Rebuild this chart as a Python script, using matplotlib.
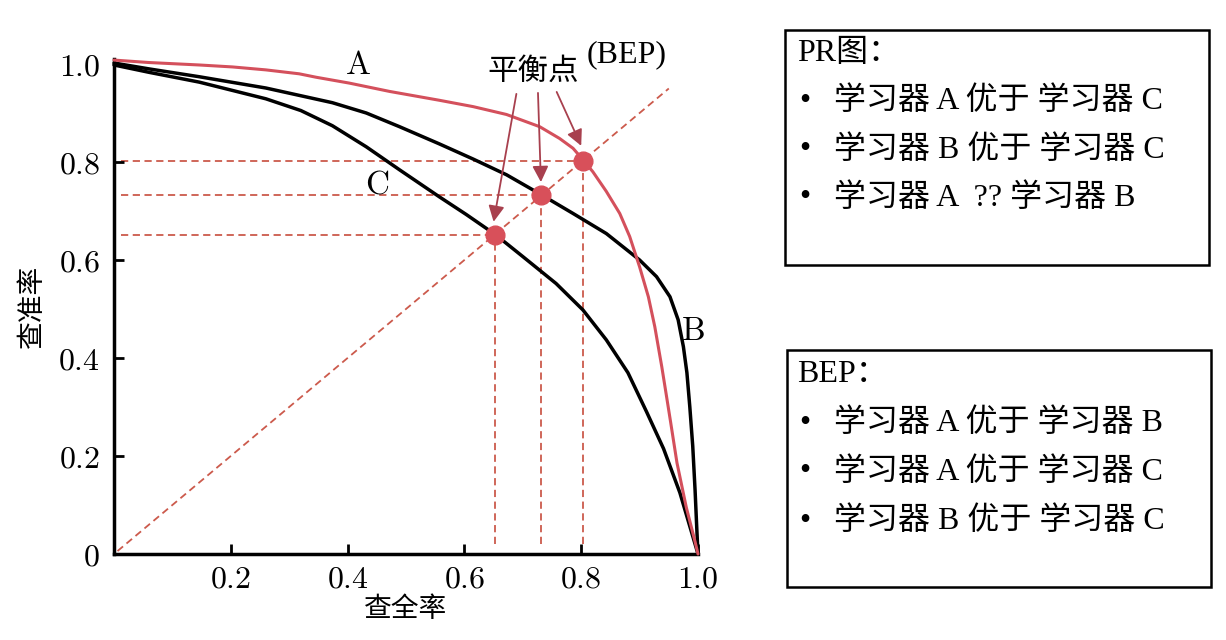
import matplotlib
matplotlib.use("Agg")
import matplotlib.pyplot as plt
from matplotlib.patches import Rectangle

plt.rcParams['mathtext.fontset'] = 'cm'
plt.rcParams['font.family'] = ['Liberation Serif', 'Noto Sans CJK SC', 'DejaVu Sans']

# ---------------- data ----------------
recall_A = [0.0, 0.060, 0.146, 0.203, 0.26, 0.317, 0.346, 0.403, 0.472, 0.557, 0.615,
            0.672, 0.729, 0.763, 0.786, 0.802, 0.820, 0.843, 0.866, 0.883, 0.900,
            0.915, 0.926, 0.938, 0.945, 0.953, 0.964, 0.980, 0.995, 1.0]
precision_A = [1.008, 1.003, 0.998, 0.994, 0.988, 0.980, 0.973, 0.961, 0.944, 0.926, 0.913,
               0.897, 0.872, 0.848, 0.828, 0.806, 0.780, 0.740, 0.695, 0.648, 0.586,
               0.525, 0.464, 0.382, 0.330, 0.270, 0.186, 0.095, 0.025, 0.0]

recall_B = [0.0, 0.060, 0.146, 0.26, 0.374, 0.432, 0.489, 0.557, 0.615, 0.672, 0.732,
            0.786, 0.843, 0.900, 0.929, 0.952, 0.966, 0.975, 0.981, 0.986, 0.991,
            0.995, 0.998, 1.0]
precision_B = [1.002, 0.990, 0.974, 0.951, 0.921, 0.900, 0.872, 0.837, 0.806, 0.774, 0.733,
               0.695, 0.654, 0.600, 0.566, 0.525, 0.478, 0.423, 0.370, 0.300, 0.220,
               0.130, 0.050, 0.0]

recall_C = [0.0, 0.060, 0.146, 0.26, 0.32, 0.374, 0.432, 0.489, 0.557, 0.603, 0.654,
            0.700, 0.757, 0.803, 0.843, 0.880, 0.912, 0.941, 0.969, 1.0]
precision_C = [0.998, 0.983, 0.963, 0.929, 0.905, 0.874, 0.831, 0.784, 0.729, 0.693, 0.651,
               0.607, 0.552, 0.498, 0.437, 0.370, 0.290, 0.215, 0.125, 0.0]

bep_values = [0.803, 0.732, 0.652]          # A, B, C
diag_end = 0.95

x_ticks = [0.2, 0.4, 0.6, 0.8, 1.0]
x_tick_labels = ['0.2', '0.4', '0.6', '0.8', '1.0']
y_ticks = [0.0, 0.2, 0.4, 0.6, 0.8, 1.0]
y_tick_labels = ['0', '0.2', '0.4', '0.6', '0.8', '1.0']

curve_labels = ['A', 'B', 'C']
curve_label_pos = [(0.417, 0.996), (0.991, 0.453), (0.451, 0.753)]

arrow_tails = [(0.758, 0.943), (0.726, 0.941), (0.689, 0.939)]
arrow_heads = [(0.800, 0.833), (0.731, 0.759), (0.650, 0.678)]

box1_title = 'PR图：'
box1_items = ['学习器 A 优于 学习器 C', '学习器 B 优于 学习器 C', '学习器 A  ?? 学习器 B']
box2_title = 'BEP：'
box2_items = ['学习器 A 优于 学习器 B', '学习器 A 优于 学习器 C', '学习器 B 优于 学习器 C']

# ---------------- figure ----------------
W, H = 1226, 640
fig = plt.figure(figsize=(W / 100, H / 100), dpi=100)
fig.patch.set_facecolor('white')

ax = fig.add_axes([114 / W, (H - 554) / H, 584 / W, 1.01 * 490 / H])
ax.set_xlim(0, 1.0)
ax.set_ylim(0, 1.01)

red_curve = '#d4505c'
dash_col = '#cc5a4c'
dot_col = '#d8505a'
arrow_col = '#a8404e'
dash_style = (0, (4, 2.5))

# dashed guide lines
ax.plot([0.006, diag_end], [0.006, diag_end], ls=dash_style, color=dash_col, lw=1.3, zorder=1)
for v in bep_values:
    ax.plot([0.012, v], [v, v], ls=dash_style, color=dash_col, lw=1.3, zorder=1)
    ax.plot([v, v], [0.02, v], ls=dash_style, color=dash_col, lw=1.3, zorder=1)

# curves
ax.plot(recall_C, precision_C, color='black', lw=2.5, zorder=3, clip_on=False,
        solid_joinstyle='round', solid_capstyle='round')
ax.plot(recall_B, precision_B, color='black', lw=2.5, zorder=3, clip_on=False,
        solid_joinstyle='round', solid_capstyle='round')
ax.plot(recall_A, precision_A, color=red_curve, lw=2.2, zorder=4, clip_on=False,
        solid_joinstyle='round', solid_capstyle='round')

# break-even points
ax.plot(bep_values, bep_values, 'o', color=dot_col, ms=13.5, mec=dot_col, zorder=5)

# arrows
for (tx, ty), (hx, hy) in zip(arrow_tails, arrow_heads):
    ax.annotate('', xy=(hx, hy), xytext=(tx, ty),
                arrowprops=dict(arrowstyle='-|>', color=arrow_col, lw=1.3,
                                mutation_scale=24, shrinkA=0, shrinkB=0), zorder=6)

# labels on curves
for lab, (lx, ly) in zip(curve_labels, curve_label_pos):
    ax.text(lx, ly, r'$\mathrm{' + lab + '}$', fontsize=24, ha='center', va='center')

ax.text(0.718, 0.985, '平衡点', fontsize=22, ha='center', va='center',
        family=['Noto Sans CJK SC'])
ax.text(0.877, 1.018, '(BEP)', fontsize=23, ha='center', va='center',
        family=['Liberation Serif'], clip_on=False)

# spines / ticks
for s in ['top', 'right']:
    ax.spines[s].set_visible(False)
for s in ['left', 'bottom']:
    ax.spines[s].set_linewidth(2.5)
ax.set_xticks(x_ticks)
ax.set_xticklabels([r'$' + t + '$' for t in x_tick_labels], fontsize=23)
ax.set_yticks(y_ticks)
ax.set_yticklabels([r'$' + t + '$' for t in y_tick_labels], fontsize=23)
ax.tick_params(direction='in', length=7, width=2, pad=10)
ax.tick_params(axis='x', pad=8)

ax.set_xlabel('查全率', fontsize=20, family=['Noto Sans CJK SC'], labelpad=0)
ax.set_ylabel('查准率', fontsize=20, family=['Noto Sans CJK SC'], labelpad=8)

# ---------------- text boxes ----------------
box_font = ['Liberation Serif', 'Noto Sans CJK SC']


def fx(px):
    return px / W


def fy(py):
    return 1 - py / H


def draw_box(x0, y0, x1, y1, title, items, title_y, row_ys):
    fig.patches.append(Rectangle((fx(x0), fy(y1)), fx(x1) - fx(x0), fy(y0) - fy(y1),
                                 transform=fig.transFigure, fill=False,
                                 edgecolor='black', lw=1.8))
    fig.text(fx(797), fy(title_y), title, fontsize=23, family=box_font,
             ha='left', va='center')
    for it, ry in zip(items, row_ys):
        fig.text(fx(799), fy(ry), '•', fontsize=23, family=box_font,
                 ha='left', va='center')
        fig.text(fx(834), fy(ry), it, fontsize=23, family=box_font,
                 ha='left', va='center')


draw_box(785, 30, 1209, 265, box1_title, box1_items, 53, [101, 150, 198])
draw_box(787, 350, 1211, 587, box2_title, box2_items, 375, [423, 472, 521])

fig.savefig('out.png', dpi=100)
